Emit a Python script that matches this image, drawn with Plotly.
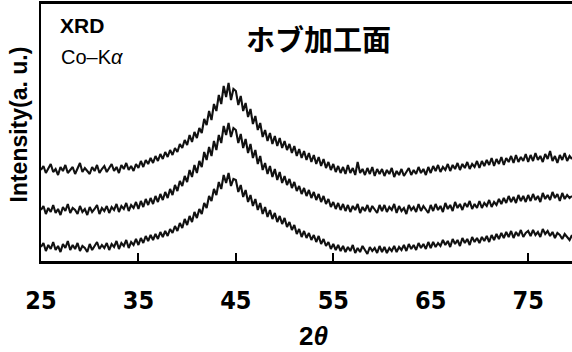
import numpy as np
import plotly.graph_objects as go

# 2-theta scan grid (degrees), regular step of 0.25
two_theta = np.round(np.arange(25.0, 79.5 + 1e-9, 0.25), 2)

# Intensity (a.u.) (offset stacked traces)
upper = [
    91, 95, 88, 93, 97, 89, 92, 86, 94, 90, 96, 88, 91, 94, 87, 92, 98, 89, 93, 90,
    87, 94, 90, 96, 88, 92, 95, 89, 93, 97, 90, 94, 88, 96, 92, 98, 91, 95, 90, 97,
    93, 100, 94, 101, 97, 103, 98, 105, 100, 107, 102, 109, 104, 111, 106, 113, 109, 117, 113, 121,
    116, 126, 119, 129, 123, 133, 128, 142, 136, 150, 141, 157, 150, 166, 157, 175, 164, 178, 161, 172,
    170, 156, 165, 150, 158, 144, 152, 137, 145, 131, 138, 124, 131, 120, 128, 117, 125, 115, 123, 113,
    120, 111, 117, 108, 115, 105, 112, 103, 110, 101, 108, 99, 106, 97, 104, 95, 102, 93, 99, 91,
    97, 89, 95, 88, 94, 87, 96, 88, 93, 86, 99, 88, 92, 86, 93, 87, 94, 85, 92, 87,
    92, 85, 91, 87, 93, 84, 90, 86, 92, 85, 89, 93, 86, 91, 87, 94, 88, 92, 86, 94,
    88, 95, 90, 96, 89, 94, 91, 97, 90, 96, 92, 98, 91, 97, 93, 99, 92, 97, 94, 100,
    93, 100, 95, 101, 96, 103, 95, 102, 97, 104, 96, 103, 99, 105, 98, 106, 99, 104, 100, 107,
    99, 106, 100, 108, 101, 105, 99, 107, 102, 110, 100, 105, 98, 106, 101, 108, 100, 105, 102,
]
middle = [
    51, 55, 47, 53, 49, 56, 48, 52, 46, 54, 50, 57, 48, 53, 51, 47, 55, 49, 52, 46,
    54, 49, 52, 56, 47, 53, 50, 55, 48, 54, 51, 57, 49, 55, 52, 58, 50, 56, 53, 59,
    52, 60, 54, 62, 56, 63, 57, 65, 59, 67, 61, 69, 63, 72, 66, 76, 70, 80, 75, 85,
    79, 91, 84, 96, 88, 100, 94, 109, 101, 114, 105, 120, 111, 126, 118, 135, 126, 138, 124, 133,
    131, 118, 127, 113, 122, 108, 117, 103, 111, 97, 105, 91, 98, 87, 95, 84, 92, 81, 89, 78,
    85, 76, 82, 73, 79, 70, 75, 67, 73, 65, 71, 63, 69, 61, 67, 59, 65, 57, 62, 54,
    59, 52, 58, 51, 57, 50, 56, 49, 55, 51, 57, 48, 54, 50, 56, 49, 55, 51, 48, 56,
    50, 56, 49, 54, 51, 57, 48, 55, 50, 53, 47, 56, 51, 54, 49, 57, 50, 55, 52, 48,
    56, 50, 57, 51, 55, 49, 58, 52, 56, 50, 59, 53, 57, 51, 58, 54, 60, 52, 57, 53,
    60, 53, 58, 55, 61, 54, 59, 56, 62, 57, 63, 58, 65, 59, 64, 58, 66, 60, 65, 59,
    66, 60, 67, 61, 65, 59, 68, 62, 66, 61, 69, 63, 67, 60, 68, 62, 66, 63, 65,
]
lower = [
    14, 18, 10, 16, 12, 19, 11, 15, 9, 17, 13, 20, 11, 16, 12, 18, 10, 15, 13, 9,
    17, 11, 15, 19, 12, 16, 13, 18, 11, 17, 14, 20, 12, 18, 15, 21, 13, 19, 16, 22,
    16, 23, 18, 25, 20, 26, 21, 27, 22, 29, 24, 30, 25, 32, 28, 35, 30, 38, 33, 42,
    36, 45, 39, 49, 43, 52, 47, 58, 53, 65, 60, 72, 66, 79, 72, 86, 78, 88, 75, 82,
    81, 69, 76, 64, 71, 59, 66, 55, 62, 51, 58, 47, 54, 44, 51, 42, 48, 39, 45, 37,
    43, 34, 39, 31, 36, 27, 32, 24, 30, 23, 28, 21, 26, 19, 25, 17, 22, 15, 19, 12,
    17, 11, 16, 10, 15, 9, 14, 10, 16, 8, 13, 9, 15, 11, 7, 14, 10, 13, 8, 15,
    9, 14, 8, 13, 10, 15, 9, 14, 11, 16, 10, 17, 12, 16, 11, 18, 13, 17, 12, 19,
    13, 19, 14, 18, 15, 21, 16, 20, 14, 22, 17, 21, 15, 23, 18, 22, 16, 24, 19, 23,
    18, 24, 20, 25, 19, 26, 21, 27, 22, 28, 23, 29, 24, 30, 23, 29, 25, 31, 24, 28,
    30, 25, 31, 26, 29, 24, 32, 27, 30, 25, 29, 23, 28, 26, 22, 27, 24, 21, 26,
]

x_label_vals = [25, 35, 45, 55, 65, 75]
x_label_text = ["25", "35", "45", "55", "65", "75"]
x_tick_marks = [35, 45, 55, 75]

title_text = "ホブ加工面"
method_text = "XRD"
source_text = "Co–K<i>α</i>"
y_title = "Intensity(a. u.)"
x_title = "<b>2<i>θ</i></b>"

X_RANGE = [25, 79.5]
Y_RANGE = [0, 257]

fig = go.Figure()
for ys, xa in ((upper, "x"), (middle, "x"), (lower, "x2")):
    fig.add_trace(go.Scatter(x=two_theta, y=ys, mode="lines", xaxis=xa, yaxis="y",
                             line=dict(color="#111111", width=2.1),
                             showlegend=False, hoverinfo="skip"))

num_font = dict(family="Liberation Sans Narrow, DejaVu Sans Condensed, Liberation Sans, Arial",
                size=25, color="black", weight="bold")

fig.update_layout(
    width=572, height=352,
    margin=dict(l=41, r=0, t=4, b=91),
    paper_bgcolor="white", plot_bgcolor="white",
    showlegend=False,
    xaxis=dict(range=X_RANGE, tickvals=x_label_vals, ticktext=x_label_text,
               ticks="", showgrid=False, zeroline=False,
               showline=True, linecolor="black", linewidth=2.5, mirror=True,
               tickfont=num_font, ticklabelstandoff=15),
    xaxis2=dict(range=X_RANGE, overlaying="x", anchor="y", side="bottom",
                tickvals=x_tick_marks, ticks="inside", ticklen=8, tickwidth=2,
                tickcolor="black", showticklabels=False, showgrid=False,
                zeroline=False, showline=False),
    yaxis=dict(range=Y_RANGE, showticklabels=False, ticks="", showgrid=False,
               zeroline=False, showline=True, linecolor="black", linewidth=1.5),
)

annos = [
    dict(text=f"<b>{title_text}</b>", x=(318 - 41) / 531, y=(261 - 38) / 257,
         font=dict(family="Noto Sans CJK JP", size=29, color="black"),
         xanchor="center", yanchor="middle"),
    dict(text=f"<b>{method_text}</b>", x=(58 - 41) / 531, y=(261 - 25) / 257,
         font=dict(family="Liberation Sans, Arial", size=21, color="black"),
         xanchor="left", yanchor="middle"),
    dict(text=source_text, x=(59 - 41) / 531, y=(261 - 57) / 257,
         font=dict(family="Liberation Sans, Arial", size=20, color="black"),
         xanchor="left", yanchor="middle"),
    dict(text=f"<b>{y_title}</b>", x=(18 - 41) / 531, y=(261 - 124.5) / 257,
         textangle=-90,
         font=dict(family="Liberation Sans, Arial", size=23, color="black"),
         xanchor="center", yanchor="middle"),
    dict(text=x_title, x=(313 - 41) / 531, y=(261 - 336) / 257,
         font=dict(family="Liberation Sans, Arial", size=26, color="black"),
         xanchor="center", yanchor="middle"),
]
for a in annos:
    fig.add_annotation(xref="paper", yref="paper", showarrow=False, **a)

fig.write_html("out.html", config={"displayModeBar": False},
               post_script="document.body.style.margin='0';document.body.style.padding='0';")
